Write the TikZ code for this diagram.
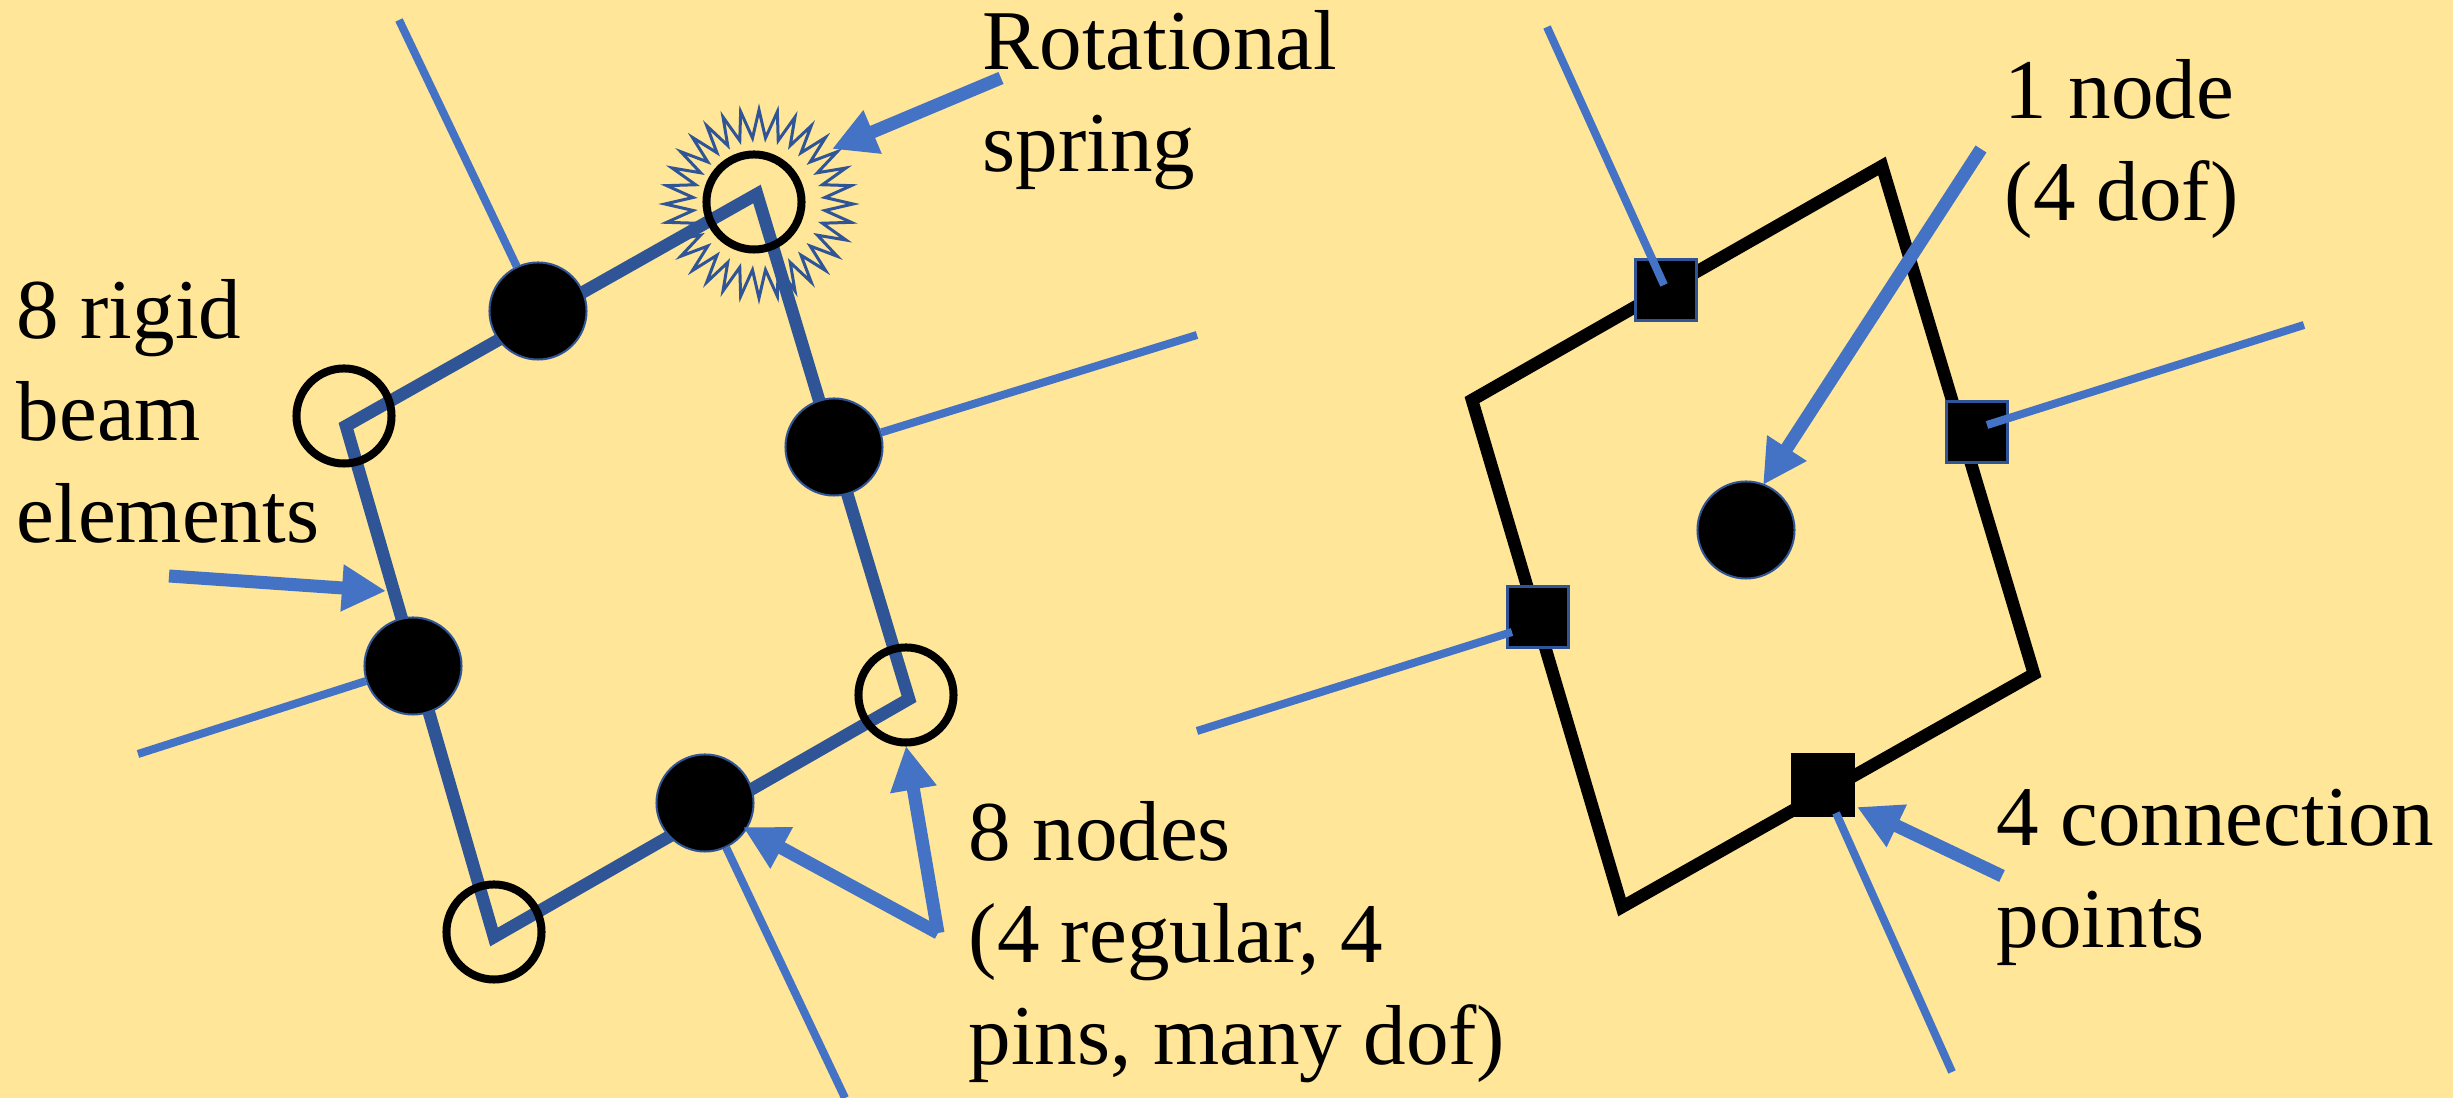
\documentclass[tikz,border=0pt]{standalone}
\usepackage{fontspec}
\setmainfont{Liberation Serif}
\usepackage{xcolor}
\definecolor{paper}{HTML}{FFE699}
\definecolor{lineblue}{HTML}{4472C4}
\definecolor{darkblue}{HTML}{2F5597}
\usetikzlibrary{arrows.meta, positioning, shapes.geometric}

\begin{document}
\begin{tikzpicture}[
    x=0.01cm, y=-0.01cm,
    beam/.style={draw=darkblue, line width=0.125cm, line join=miter},
    frame/.style={draw=black, line width=0.125cm, line join=miter},
    pin/.style={circle, draw=black, line width=0.08cm, minimum size=0.95cm, inner sep=0},
    dot/.style={circle, draw=darkblue, fill=black, line width=0.02cm, minimum size=0.97cm, inner sep=0},
    conn/.style={rectangle, draw=darkblue, fill=black, line width=0.025cm, minimum size=0.61cm, inner sep=0},
    stub/.style={draw=lineblue, line width=0.08cm},
    arr/.style={draw=lineblue, fill=lineblue, line width=0.13cm, -{Triangle[length=0.44cm, width=0.44cm]}},
    lab/.style={font=\fontsize{24.2}{29}\selectfont, align=left, anchor=north west, inner sep=0, text=black}
]

% --- Background ---
\fill[paper] (0,0) rectangle (2453,1098);
\useasboundingbox (0,0) rectangle (2453,1098);

% --- Rotational spring ---
\node[star, star points=32, star point ratio=1.42, minimum size=1.88cm, inner sep=0,
    draw=darkblue, line width=0.03cm] (burst) at (759,204) {};

% --- Left: corners ---
\coordinate (la) at (757,194);
\coordinate (lb) at (909,699);
\coordinate (lc) at (494,937);
\coordinate (ld) at (346,426);
\draw[beam] (la) -- (lb) -- (lc) -- (ld) -- cycle;

% --- Left: nodes ---
\node[dot] (dota) at (538,311) {};
\node[dot] (dotb) at (834,447) {};
\node[dot] (dotc) at (413,666) {};
\node[dot] (dotd) at (705,803) {};
\node[pin] (pina) at (754,202) {};
\node[pin] (pinb) at (344,416) {};
\node[pin] (pinc) at (906,695) {};
\node[pin] (pind) at (494,932) {};

% --- Left: free ends ---
\coordinate (enda) at (399,20);
\coordinate (endb) at (1197,335);
\coordinate (endc) at (138,754);
\coordinate (endd) at (845,1098);
\draw[stub] (dota) -- (enda);
\draw[stub] (dotb) -- (endb);
\draw[stub] (dotc) -- (endc);
\draw[stub] (dotd) -- (endd);

% --- Right: corners ---
\coordinate (ra) at (1882,166);
\coordinate (rb) at (2034,674);
\coordinate (rc) at (1622,907);
\coordinate (rd) at (1472,400);
\draw[frame] (ra) -- (rb) -- (rc) -- (rd) -- cycle;

% --- Right: nodes ---
\node[conn] (sqa) at (1666,290) {};
\node[conn] (sqb) at (1977,432) {};
\node[conn] (sqc) at (1538,617) {};
\node[conn, draw=black] (sqd) at (1823,785) {};
\node[dot]  (mid) at (1746,530) {};

% --- Right: free ends ---
\coordinate (tipa) at (1664,285);
\coordinate (tipb) at (1987,425);
\coordinate (tipc) at (1512,632);
\coordinate (tipd) at (1836,813);
\draw[stub] (1547,27) coordinate (fara) -- (tipa);
\draw[stub] (2304,325) coordinate (farb) -- (tipb);
\draw[stub] (1197,731) coordinate (farc) -- (tipc);
\draw[stub] (1952,1072) coordinate (fard) -- (tipd);

% --- Labels ---
\node[lab] (rotlab)  at (982,10)    {Rotational\\spring};
\node[lab] (rigidlab) at (16,279)  {8 rigid\\beam\\elements};
\node[lab] (nodelab) at (968,801)  {8 nodes\\(4 regular, 4\\pins, many dof)};
\node[lab] (onelab)  at (2004,59)  {1 node\\(4 dof)};
\node[lab] (connlab) at (1996,788) {4 connection\\points};

% --- Arrows ---
\coordinate (rotfrom) at (1001,78);
\coordinate (rotto) at (832,149);
\draw[arr] (rotfrom) -- (rotto);

\coordinate (rigidfrom) at (169,576);
\coordinate (rigidto) at (386,591);
\draw[arr] (rigidfrom) -- (rigidto);

\coordinate (nodefrom) at (938,933);
\coordinate (nodeto) at (743,827);
\coordinate (pinto) at (906,746);
\draw[arr] (nodefrom) -- (nodeto);
\draw[arr] (nodefrom) -- (pinto);

\coordinate (onefrom) at (1981,149);
\coordinate (oneto) at (1763,485);
\draw[arr] (onefrom) -- (oneto);

\coordinate (connfrom) at (2002,876);
\coordinate (connto) at (1857,807);
\draw[arr] (connfrom) -- (connto);

\end{tikzpicture}
\end{document}
